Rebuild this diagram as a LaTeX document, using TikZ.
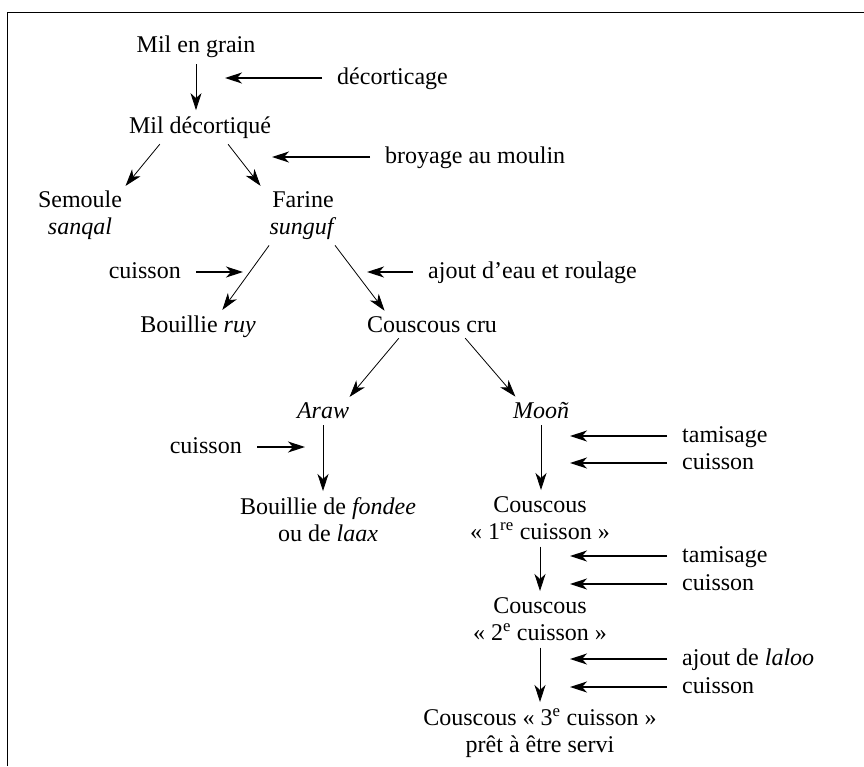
\documentclass[tikz,border=0pt]{standalone}
\usepackage{fontspec}
\setmainfont{Liberation Serif}
\usetikzlibrary{arrows.meta}

\begin{document}
\begin{tikzpicture}[
        x=1pt, y=-1pt,
        >={Stealth[length=17pt,width=11pt,inset=5pt]},
        every node/.style={font=\fontsize{24}{27}\selectfont},
        stage/.style={inner sep=2pt, anchor=base},
        stagetwo/.style={inner sep=2pt, anchor=north, align=center},
        lab/.style={inner xsep=0pt, inner ysep=0pt, text height=12pt, text depth=0pt},
        flow/.style={->, line width=0.8pt, shorten <=5pt, shorten >=4pt},
        side/.style={->, line width=1.2pt, shorten <=15pt}
    ]
        \useasboundingbox (0,0) rectangle (864,766);
        \draw[line width=1pt] (7.5,766) -- (7.5,12) -- (864,12);

        \node[stage] (mg) at (196,52) {Mil en grain};
        \node[stage] (md) at (200,133) {Mil décortiqué};
        \node[stagetwo] (sem) at (80,189) {Semoule\\\textit{sanqal}};
        \node[stagetwo] (far) at (303,189) {Farine\\\textit{sunguf}};
        \node[stage] (ruy) at (198,332) {Bouillie \textit{ruy}};
        \node[stage] (cru) at (432,332) {Couscous cru};
        \node[stage] (araw) at (323,418) {\textit{Araw}};
        \node[stage] (moon) at (541,418) {\textit{Mooñ}};
        \node[stagetwo] (bouf) at (328,495) {Bouillie de \textit{fondee}\\ou de \textit{laax}};
        \node[stagetwo] (c1) at (540,494) {Couscous\\« 1\textsuperscript{re} cuisson »};
        \node[stagetwo] (c2) at (540,595) {Couscous\\« 2\textsuperscript{e} cuisson »};
        \node[stagetwo] (c3) at (540,706) {Couscous « 3\textsuperscript{e} cuisson »\\prêt à être servi};

        \draw[flow] (mg.south) -- (mg.south |- md.north);
        \draw[flow] ([xshift=-37pt]md.south) -- ([xshift=43pt]sem.north);
        \draw[flow] ([xshift=25pt]md.south) -- ([xshift=-40pt]far.north);
        \draw[flow] ([xshift=-31pt]far.south) -- ([xshift=22pt]ruy.north);
        \draw[flow] ([xshift=29pt]far.south) -- ([xshift=-45pt]cru.north);
        \draw[flow] ([xshift=-30pt]cru.south) -- ([xshift=24pt]araw.north);
        \draw[flow] ([xshift=30pt]cru.south) -- ([xshift=-23pt]moon.north);
        \draw[flow] (araw.south) -- (araw.south |- bouf.north);
        \draw[flow] (moon.south) -- (moon.south |- c1.north);
        \draw[flow] (c1.south) -- (c1.south |- c2.north);
        \draw[flow] (c2.south) -- (c2.south |- c3.north);

        \node[lab, anchor=west] (dec) at (337,78) {décorticage};
        \node[lab, anchor=west] (bro) at (385,157) {broyage au moulin};
        \node[lab, anchor=east] (cuia) at (181,272) {cuisson};
        \node[lab, anchor=west] (ajo) at (428,272) {ajout d’eau et roulage};
        \node[lab, anchor=east] (cuib) at (242,447) {cuisson};
        \node[lab, anchor=west] (tama) at (682,436) {tamisage};
        \node[lab, anchor=west] (cuic) at (682,463) {cuisson};
        \node[lab, anchor=west] (tamb) at (682,556) {tamisage};
        \node[lab, anchor=west] (cuid) at (682,584) {cuisson};
        \node[lab, anchor=west] (lal) at (682,659) {ajout de \textit{laloo}};
        \node[lab, anchor=west] (cuie) at (682,687) {cuisson};

        \coordinate (dectip) at (225,78);
        \coordinate (brotip) at (272,157);
        \coordinate (cuiatip) at (243,272);
        \coordinate (ajotip) at (367,272);
        \coordinate (cuibtip) at (305,447);
        \coordinate (tamatip) at (570,436);
        \coordinate (cuictip) at (570,463);
        \coordinate (tambtip) at (570,556);
        \coordinate (cuidtip) at (570,584);
        \coordinate (laltip) at (570,659);
        \coordinate (cuietip) at (570,687);

        \draw[side] (dec) -- (dectip);
        \draw[side] (bro) -- (brotip);
        \draw[side] (cuia) -- (cuiatip);
        \draw[side] (ajo) -- (ajotip);
        \draw[side] (cuib) -- (cuibtip);
        \draw[side] (tama) -- (tamatip);
        \draw[side] (cuic) -- (cuictip);
        \draw[side] (tamb) -- (tambtip);
        \draw[side] (cuid) -- (cuidtip);
        \draw[side] (lal) -- (laltip);
        \draw[side] (cuie) -- (cuietip);
    \end{tikzpicture}
\end{document}
